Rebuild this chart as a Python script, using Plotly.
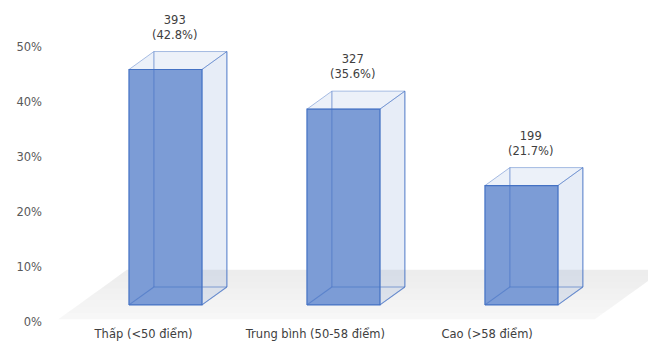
import plotly.graph_objects as go

# Score groups, student counts and their shares (%)
categories = ["Thấp (<50 điểm)", "Trung bình (50-58 điểm)", "Cao (>58 điểm)"]
counts = [393, 327, 199]
shares = [42.8, 35.6, 21.7]
y_ticks = [0, 10, 20, 30, 40, 50]
y_tick_labels = [f"{t}%" for t in y_ticks]

# Oblique projection of the 3D boxes (x in category units, y in %)
BAR_W = 0.41        # bar width along x
DEPTH_DX = 0.14     # x shift for one bar depth
DEPTH_DY = 3.27     # y shift for one bar depth
Z_FRONT = 0.95      # depth of the bar front plane
Z_BACK = Z_FRONT + 1.0
LABEL_SPREAD = 0.965  # category labels sit slightly closer together on the floor edge

BLUE = "rgb(68,114,196)"
FACE = "rgb(124,156,214)"
FONT = "DejaVu Sans"


def proj(x, v, z):
    return x + z * DEPTH_DX, v + z * DEPTH_DY


def poly(points):
    xs, ys = [], []
    for p in points:
        px, py = proj(*p)
        xs.append(px)
        ys.append(py)
    xs.append(xs[0])
    ys.append(ys[0])
    return xs, ys


def segments(pairs):
    xs, ys = [], []
    for a, b in pairs:
        for p in (a, b):
            px, py = proj(*p)
            xs.append(px)
            ys.append(py)
        xs.append(None)
        ys.append(None)
    return xs, ys


fig = go.Figure()

# Floor: light grey plane, darker towards the back
floor_left, floor_right = -0.49, 2.525
floor_z0, floor_z1 = 0.15, 2.9
n_strips = 8
for k in range(n_strips):
    za = floor_z0 + (floor_z1 - floor_z0) * k / n_strips
    zb = floor_z0 + (floor_z1 - floor_z0) * (k + 1) / n_strips
    alpha = 0.03 + 0.045 * (k + 0.5) / n_strips
    xs, ys = poly([(floor_left, 0, za), (floor_right, 0, za),
                   (floor_right, 0, zb), (floor_left, 0, zb)])
    fig.add_trace(go.Scatter(x=xs, y=ys, fill="toself", mode="lines",
                             line=dict(width=0), fillcolor=f"rgba(0,0,0,{alpha:.3f})",
                             hoverinfo="skip", showlegend=False))

for i, (cnt, v) in enumerate(zip(counts, shares)):
    xl, xr = i - BAR_W / 2, i + BAR_W / 2
    zf, zb = Z_FRONT, Z_BACK

    # right side face
    xs, ys = poly([(xr, 0, zf), (xr, 0, zb), (xr, v, zb), (xr, v, zf)])
    fig.add_trace(go.Scatter(x=xs, y=ys, fill="toself", mode="lines",
                             line=dict(width=1, color="rgba(68,114,196,0.45)"),
                             fillcolor="rgba(68,114,196,0.13)",
                             hoverinfo="skip", showlegend=False))
    # top face
    xs, ys = poly([(xl, v, zf), (xr, v, zf), (xr, v, zb), (xl, v, zb)])
    fig.add_trace(go.Scatter(x=xs, y=ys, fill="toself", mode="lines",
                             line=dict(width=1, color="rgba(68,114,196,0.45)"),
                             fillcolor="rgba(68,114,196,0.10)",
                             hoverinfo="skip", showlegend=False))
    # front face
    xs, ys = poly([(xl, 0, zf), (xr, 0, zf), (xr, v, zf), (xl, v, zf)])
    fig.add_trace(go.Scatter(x=xs, y=ys, fill="toself", mode="lines",
                             line=dict(width=0), fillcolor=FACE,
                             hoverinfo="skip", showlegend=False))
    # edges seen through the translucent box
    xs, ys = segments([
        ((xl, 0, zb), (xl, v, zb)),
        ((xl, 0, zb), (xr, 0, zb)),
        ((xl, 0, zf), (xl, 0, zb)),
        ((xr, 0, zf), (xr, 0, zb)),
        ((xr, 0, zb), (xr, v, zb)),
    ])
    fig.add_trace(go.Scatter(x=xs, y=ys, mode="lines",
                             line=dict(width=1.1, color="rgba(68,114,196,0.6)"),
                             hoverinfo="skip", showlegend=False))
    # front outline
    xs, ys = poly([(xl, 0, zf), (xr, 0, zf), (xr, v, zf), (xl, v, zf)])
    fig.add_trace(go.Scatter(x=xs, y=ys, mode="lines",
                             line=dict(width=1.2, color=BLUE),
                             hoverinfo="skip", showlegend=False))

    # value label centred over the box, above its back top edge
    lx, _ = proj(i, v, zf + 0.5)
    _, ly = proj(i, v, zb)
    fig.add_annotation(x=lx - 0.015, y=ly, text=f"{cnt}<br>({v:.1f}%)",
                       showarrow=False, yanchor="bottom", yshift=8,
                       font=dict(family=FONT, size=11.5, color="#404040"))

fig.update_layout(
    width=648, height=347,
    margin=dict(l=48, r=0, t=0, b=22),
    paper_bgcolor="white", plot_bgcolor="white",
    font=dict(family=FONT, color="#595959"),
    xaxis=dict(range=[-0.527, 2.844], tickmode="array",
               tickvals=[i * LABEL_SPREAD + 0.01 for i in range(len(categories))],
               ticktext=categories, showgrid=False, zeroline=False,
               showline=False, ticks="", tickfont=dict(size=11.5, color="#404040")),
    yaxis=dict(range=[-0.545, 58.545], tickmode="array", tickvals=y_ticks,
               ticktext=y_tick_labels, showgrid=False, zeroline=False,
               showline=False, ticks="", ticklabelstandoff=5,
               tickfont=dict(size=11.5, color="#595959")),
)

fig.write_html("out.html")
